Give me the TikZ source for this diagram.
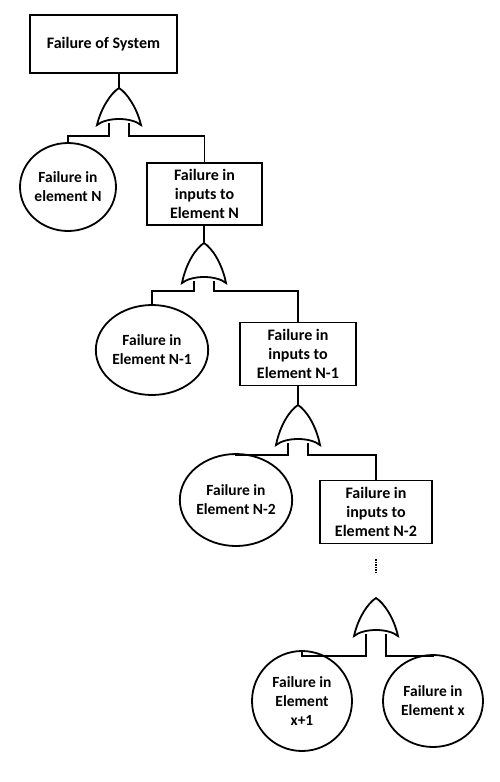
\documentclass[tikz,border=0pt]{standalone}
\usepackage{fontspec}
\setmainfont{Carlito}
\usetikzlibrary{shapes.geometric}
\begin{document}
\begin{tikzpicture}[x=1pt,y=-1pt,line width=1.8pt,
  box/.style={draw,rectangle,align=center,font=\bfseries\fontsize{16}{19}\selectfont,inner sep=0pt},
  ev/.style={draw,ellipse,align=center,font=\bfseries\fontsize{15.5}{19}\selectfont,inner sep=0pt},
  wire/.style={line width=1.8pt}]
\useasboundingbox (0,0) rectangle (500,782);
% gate macro: name, cx, top y, base y
\newcommand\mygate[4]{%
  \coordinate (#1-in) at (#2,#3);
  \coordinate (#1-l) at (#2-10,#4-2);
  \coordinate (#1-r) at (#2+10,#4-2);
  \draw (#2,#3) .. controls (#2+8,#3+5) and (#2+18,#3+20) .. (#2+22,#4)
        .. controls (#2+12,#4-8) and (#2-12,#4-8) .. (#2-22,#4)
        .. controls (#2-18,#3+20) and (#2-8,#3+5) .. cycle;}
\node[box,minimum width=147,minimum height=58] (top) at (103.5,44) {Failure of System};
\mygate{g1}{119}{88}{125}
\node[ev,minimum width=96,minimum height=88] (e1) at (68,187) {Failure in\\element N};
\node[box,minimum width=115,minimum height=62] (b2) at (204.5,194) {Failure in\\inputs to\\Element N};
\mygate{g2}{204}{243}{283}
\node[ev,minimum width=98,minimum height=90] (e2) at (152,350) {Failure in\\Element N-1};
\node[box,minimum width=116,minimum height=63] (b3) at (298,354) {Failure in\\inputs to\\Element N-1};
\mygate{g3}{298}{405}{445}
\node[ev,minimum width=104,minimum height=92] (e3) at (236,500) {Failure in\\Element N-2};
\node[box,minimum width=112,minimum height=63] (b4) at (376,512) {Failure in\\inputs to\\Element N-2};
\coordinate (dots) at (376,566);
\draw[line width=2.2pt,dash pattern=on 1.2pt off 1.3pt] ([yshift=-7]dots) -- ([yshift=7]dots);
\mygate{g4}{376}{598}{636}
\node[ev,minimum width=100,minimum height=100] (e4) at (302,701) {Failure in\\Element\\x+1};
\node[ev,minimum width=100,minimum height=92] (e5) at (433,701) {Failure in\\Element x};
\draw[wire] (top.south -| g1-in) -- (g1-in);
\draw[wire] (g1-l) |- ++(0,13) -| (e1.north);
\draw[wire] (g1-r) |- ++(0,13) -| (b2.north);
\draw[wire] (b2.south -| g2-in) -- (g2-in);
\draw[wire] (g2-l) |- ++(0,10) -| (e2.north);
\draw[wire] (g2-r) |- ++(0,10) -| (b3.north);
\draw[wire] (b3.south -| g3-in) -- (g3-in);
\draw[wire] (g3-l) |- ++(0,12) -| (e3.north);
\draw[wire] (g3-r) |- ++(0,12) -| (b4.north);
\draw[wire] (g4-l) |- ++(0,22) -| (e4.north);
\draw[wire] (g4-r) |- ++(0,22) -| (e5.north);
\end{tikzpicture}
\end{document}
